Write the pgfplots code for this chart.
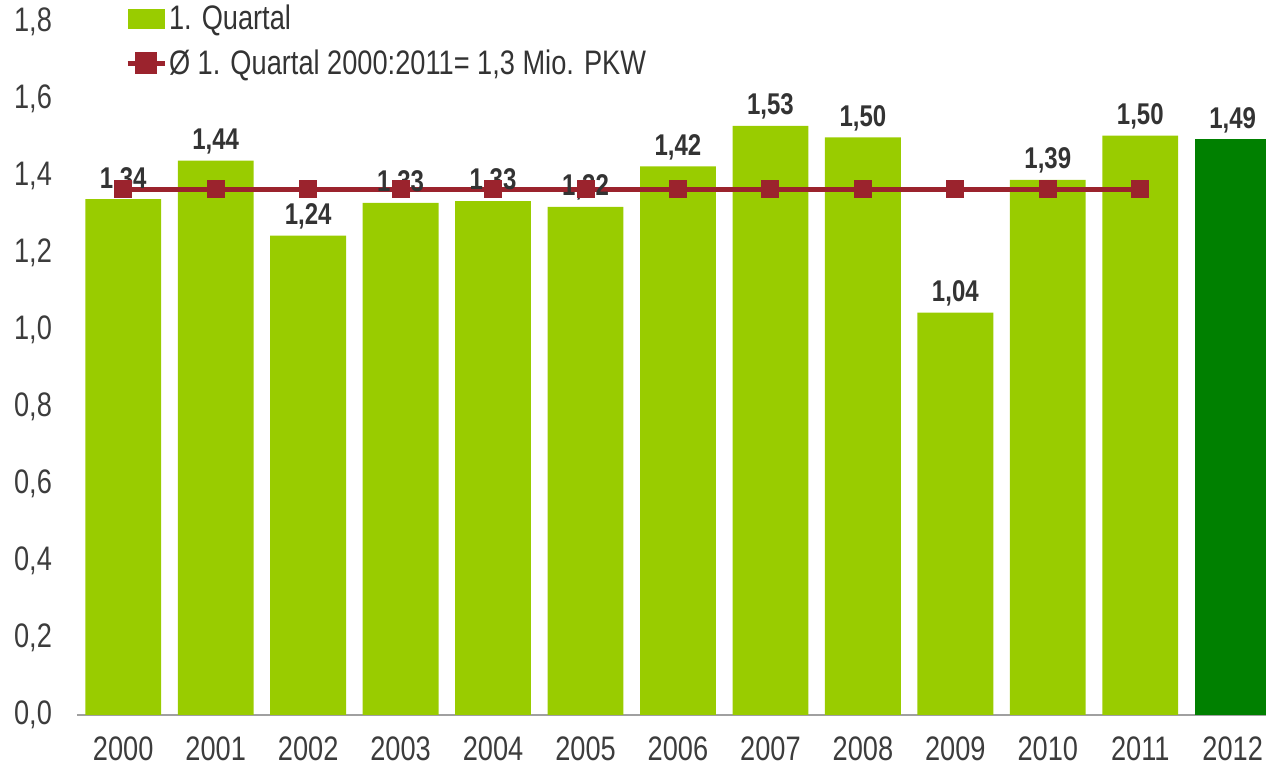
\documentclass[border=0pt]{standalone}
\usepackage{fontspec}
\setmainfont{Liberation Sans}[FakeStretch=0.8]
\usepackage{pgfplots}
\pgfplotsset{compat=1.18}
\definecolor{barlight}{RGB}{153,204,0}
\definecolor{bardark}{RGB}{0,128,0}
\definecolor{avgred}{RGB}{155,35,45}
\definecolor{txt}{RGB}{51,51,51}
\definecolor{ticktxt}{RGB}{60,60,60}
\definecolor{axisgray}{RGB}{160,160,160}
\begin{document}
\begin{tikzpicture}
\begin{axis}[
  scale only axis, width=594.5pt, height=346.5pt,
  xmin=-0.5, xmax=12.36, ymin=0, ymax=1.8,
  axis y line*=left,
  y axis line style={draw=none},
  axis x line*=bottom,
  x axis line style={draw=axisgray, line width=1pt, -},
  xtick={0,1,2,3,4,5,6,7,8,9,10,11,12},
  xticklabels={2000,2001,2002,2003,2004,2005,2006,2007,2008,2009,2010,2011,2012},
  ytick={0,0.2,0.4,0.6,0.8,1.0,1.2,1.4,1.6,1.8},
  major tick length=0pt,
  tick label style={font=\fontsize{17}{20}\selectfont, text=ticktxt},
  xticklabel style={inner ysep=0pt, yshift=-10.5pt},
  yticklabel style={xshift=-9pt},
  /pgf/number format/.cd, assume math mode=true, use comma, fixed, fixed zerofill, precision=1,
  /pgfplots/.cd,
  legend style={at={(rel axis cs:0.035,1.034)}, anchor=north west, draw=none, fill=none,
    font=\fontsize{17}{20}\selectfont, text=txt, row sep=6.5pt,
    nodes={inner xsep=1pt, inner ysep=1pt},
    /tikz/every even column/.append style={column sep=0pt}},
  legend cell align=left,
]
\addplot[ybar, bar width=0.82, bar shift=0pt, fill=barlight, draw=none,
  nodes near coords, point meta=explicit symbolic,
  every node near coord/.style={font=\bfseries\fontsize{15}{18}\selectfont, text=txt, inner sep=3pt},
  legend image code/.code={\fill[barlight] (0pt,-5pt) rectangle (18.5pt,5pt);}]
  table[meta=label] {
x y label
0 1.34 1,34
1 1.44 1,44
2 1.245 1,24
3 1.33 1,33
4 1.335 1,33
5 1.32 1,32
6 1.425 1,42
7 1.53 1,53
8 1.50 1,50
9 1.045 1,04
10 1.39 1,39
11 1.505 1,50
};
\addlegendentry{1. Quartal}
\addplot[ybar, bar width=0.82, bar shift=0pt, fill=bardark, draw=none, forget plot,
  nodes near coords, point meta=explicit symbolic,
  every node near coord/.style={font=\bfseries\fontsize{15}{18}\selectfont, text=txt, inner sep=3pt}]
  table[meta=label] {
x y label
12 1.495 1,49
};
\addplot[avgred, line width=2.5pt, mark=square*, mark size=4.25pt,
  mark options={solid, line width=0pt, fill=avgred},
  legend image code/.code={\draw[avgred, line width=2.5pt] (0pt,0pt) -- (18.5pt,0pt);
    \fill[avgred] (5pt,-4.25pt) rectangle (13.5pt,4.25pt);}]
  table {
x y
0 1.365
1 1.365
2 1.365
3 1.365
4 1.365
5 1.365
6 1.365
7 1.365
8 1.365
9 1.365
10 1.365
11 1.365
};
\addlegendentry{Ø 1. Quartal 2000:2011= 1,3 Mio. PKW}
\end{axis}
\pgfresetboundingbox
\path[use as bounding box] (current axis.south west) ++(-38.5pt,-25.5pt) rectangle ++(633pt,383pt);
\end{tikzpicture}
\end{document}
